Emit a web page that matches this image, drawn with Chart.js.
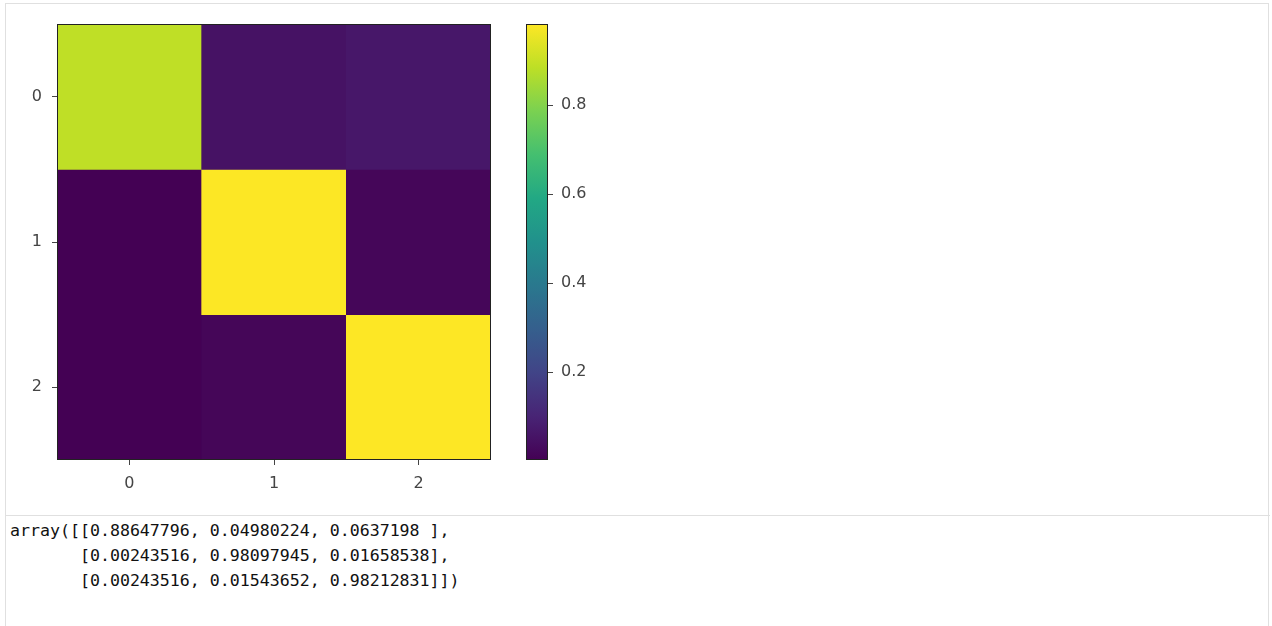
<!DOCTYPE html>
<html>
<head>
<meta charset="utf-8">
<script src="https://cdn.jsdelivr.net/npm/chart.js@4.4.1/dist/chart.umd.min.js"></script>
<style>
  body { margin: 0; background: #fff; width: 1272px; height: 626px; overflow: hidden; position: relative; }
  #frame { position: absolute; left: 5px; top: 3px; width: 1264px; height: 700px; border: 1px solid #e0e0e0; box-sizing: border-box; }
  #divider { position: absolute; left: 5px; top: 515px; width: 1265px; height: 1px; background: #e0e0e0; }
  #heat { position: absolute; left: 0; top: 0; }
  #cbar { position: absolute; left: 500px; top: 0; }
  #out { position: absolute; left: 10px; top: 518px; margin: 0; font-family: "DejaVu Sans Mono", monospace; font-size: 16.6px; line-height: 25px; color: #111; }
</style>
</head>
<body>
<div id="frame"></div>
<div id="divider"></div>
<canvas id="heat" width="510" height="500"></canvas>
<canvas id="cbar" width="110" height="500"></canvas>
<pre id="out"></pre>
<script>
// confusion matrix values (rows = y, columns = x)
const labels = ["0", "1", "2"];
const row0 = [0.88647796, 0.04980224, 0.0637198];
const row1 = [0.00243516, 0.98097945, 0.01658538];
const row2 = [0.00243516, 0.01543652, 0.98212831];
const rows = [row0, row1, row2];
const colorbarTicks = [0.2, 0.4, 0.6, 0.8];

// viridis stops
const viridis = ["#440154", "#482475", "#414487", "#355f8d", "#2a788e", "#21918c",
  "#22a884", "#44bf70", "#7ad151", "#bddf26", "#fde725"];

const allVals = rows.flat();
const vmin = Math.min(...allVals);
const vmax = Math.max(...allVals);

function hexToRgb(h) {
  return [parseInt(h.slice(1, 3), 16), parseInt(h.slice(3, 5), 16), parseInt(h.slice(5, 7), 16)];
}

function viridisColor(t) {
  t = Math.max(0, Math.min(1, t));
  const pos = t * (viridis.length - 1);
  const i = Math.min(Math.floor(pos), viridis.length - 2);
  const f = pos - i;
  const a = hexToRgb(viridis[i]);
  const b = hexToRgb(viridis[i + 1]);
  const c = a.map((v, k) => Math.round(v + (b[k] - v) * f));
  return `rgb(${c[0]}, ${c[1]}, ${c[2]})`;
}

const textColor = "#444";
const tickFont = { family: "DejaVu Sans", size: 16 };

// draws the dark frame round the chart area
const framePlugin = {
  id: "frame",
  afterDatasetsDraw(chart) {
    const a = chart.chartArea;
    const ctx = chart.ctx;
    ctx.save();
    ctx.strokeStyle = "#222";
    ctx.lineWidth = 1;
    ctx.strokeRect(a.left + 0.5, a.top + 0.5, a.right - a.left - 1, a.bottom - a.top - 1);
    ctx.restore();
  }
};

// one floating-bar dataset per row, drawn on top of each other
const heatDatasets = rows.map((row, r) => ({
  label: "row " + r,
  data: row.map(() => [r - 0.5, r + 0.5]),
  backgroundColor: row.map(v => viridisColor((v - vmin) / (vmax - vmin))),
  borderWidth: 0,
  barPercentage: 1,
  categoryPercentage: 1,
  grouped: false
}));

new Chart(document.getElementById("heat"), {
  type: "bar",
  data: { labels: labels, datasets: heatDatasets },
  plugins: [framePlugin],
  options: {
    responsive: false,
    animation: false,
    layout: { padding: { top: 24, right: 19, left: 0, bottom: 0 } },
    plugins: { legend: { display: false }, tooltip: { enabled: false } },
    scales: {
      x: {
        offset: true,
        grid: { display: true, drawOnChartArea: false, offset: false, tickLength: 5, tickColor: textColor },
        border: { display: false },
        ticks: { color: textColor, font: tickFont, padding: 9, maxRotation: 0 },
        afterFit(scale) { scale.height = 40; }
      },
      y: {
        min: -0.5,
        max: 2.5,
        reverse: true,
        grid: { display: true, drawOnChartArea: false, tickLength: 5, tickColor: textColor },
        border: { display: false },
        ticks: { color: textColor, font: tickFont, padding: 10 },
        afterBuildTicks(scale) { scale.ticks = labels.map(l => ({ value: Number(l) })); },
        afterFit(scale) { scale.width = 57; }
      }
    }
  }
});

// colorbar: one floating bar filled with the viridis gradient
new Chart(document.getElementById("cbar"), {
  type: "bar",
  data: {
    labels: [""],
    datasets: [{
      data: [[vmin, vmax]],
      backgroundColor(ctx) {
        const a = ctx.chart.chartArea;
        if (!a) return viridis[0];
        const g = ctx.chart.ctx.createLinearGradient(0, a.bottom, 0, a.top);
        viridis.forEach((c, i) => g.addColorStop(i / (viridis.length - 1), c));
        return g;
      },
      borderWidth: 0,
      barPercentage: 1,
      categoryPercentage: 1
    }]
  },
  plugins: [framePlugin],
  options: {
    responsive: false,
    animation: false,
    layout: { padding: { top: 24, left: 26, right: 0, bottom: 40 } },
    plugins: { legend: { display: false }, tooltip: { enabled: false } },
    scales: {
      x: { display: false },
      y: {
        position: "right",
        min: vmin,
        max: vmax,
        grid: { display: true, drawOnChartArea: false, tickLength: 5, tickColor: textColor },
        border: { display: false },
        ticks: { color: textColor, font: tickFont, padding: 8, callback: v => v.toFixed(1) },
        afterBuildTicks(scale) { scale.ticks = colorbarTicks.map(v => ({ value: v })); },
        afterFit(scale) { scale.width = 62; }
      }
    }
  }
});

// printed array below the figure
function fmt(v) {
  let s = v.toFixed(8).replace(/0+$/, "");
  return s.padEnd(10, " ");
}
const lines = rows.map((row, r) => {
  const body = "[" + row.map(fmt).join(", ") + "]";
  return (r === 0 ? "array([" : "       ") + body + (r === rows.length - 1 ? "])" : ",");
});
document.getElementById("out").textContent = lines.join("\n");
</script>
</body>
</html>
